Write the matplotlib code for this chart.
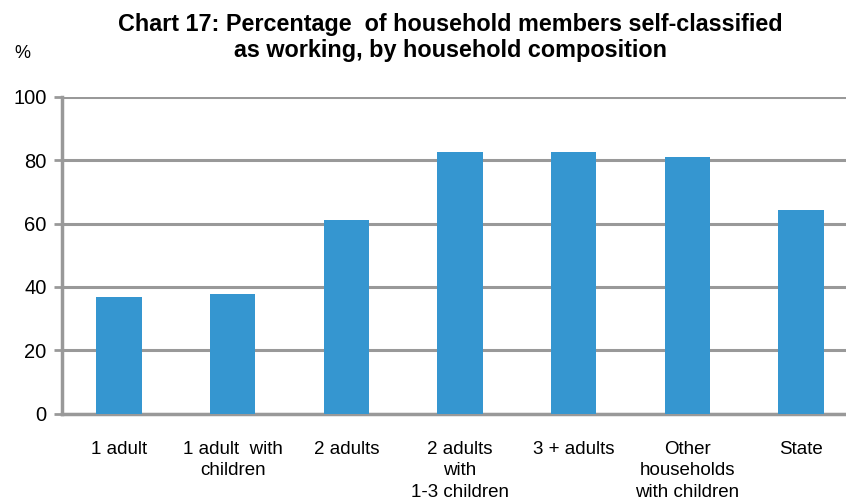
import matplotlib
matplotlib.use("Agg")
import matplotlib.pyplot as plt

categories = ["1 adult", "1 adult  with\nchildren", "2 adults", "2 adults\nwith\n1-3 children",
              "3 + adults", "Other\nhouseholds\nwith children", "State"]
values = [36.7, 37.9, 61.2, 82.6, 82.6, 81.0, 64.2]
yticks = [0, 20, 40, 60, 80, 100]

plt.rcParams['font.family'] = ['Liberation Sans', 'DejaVu Sans']

fig = plt.figure(figsize=(8.46, 5.04), dpi=100)
ax = fig.add_axes([62/846, (504-413.5)/504, 796/846, (413.5-97)/504])

grey = '#999999'
x = list(range(len(categories)))
ax.bar(x, values, width=0.4, color='#3596D0', zorder=3)
ax.set_xlim(-0.5, len(categories) - 0.5)
ax.set_ylim(0, 100)
ax.set_yticks(yticks)
ax.set_yticklabels([str(t) for t in yticks], fontsize=14.5)
ax.set_xticks(x)
ax.set_xticklabels(categories, fontsize=13.5, linespacing=1.32)
ax.yaxis.grid(True, color=grey, linewidth=2.2, zorder=0)
for s in ['top', 'right']:
    ax.spines[s].set_visible(False)
for s in ['left', 'bottom']:
    ax.spines[s].set_color(grey)
    ax.spines[s].set_linewidth(2.5)
ax.tick_params(axis='y', length=6, width=2, color=grey, pad=5)
ax.tick_params(axis='x', length=0, pad=20)

fig.text(450/846, 1 - 37.5/504, "Chart 17: Percentage  of household members self-classified\nas working, by household composition",
         ha='center', va='center', fontsize=16.8, fontweight='bold', linespacing=1.22)
fig.text(22/846, 1 - 54/504, "%", ha='center', va='center', fontsize=13)

fig.savefig("out.png", dpi=100)
